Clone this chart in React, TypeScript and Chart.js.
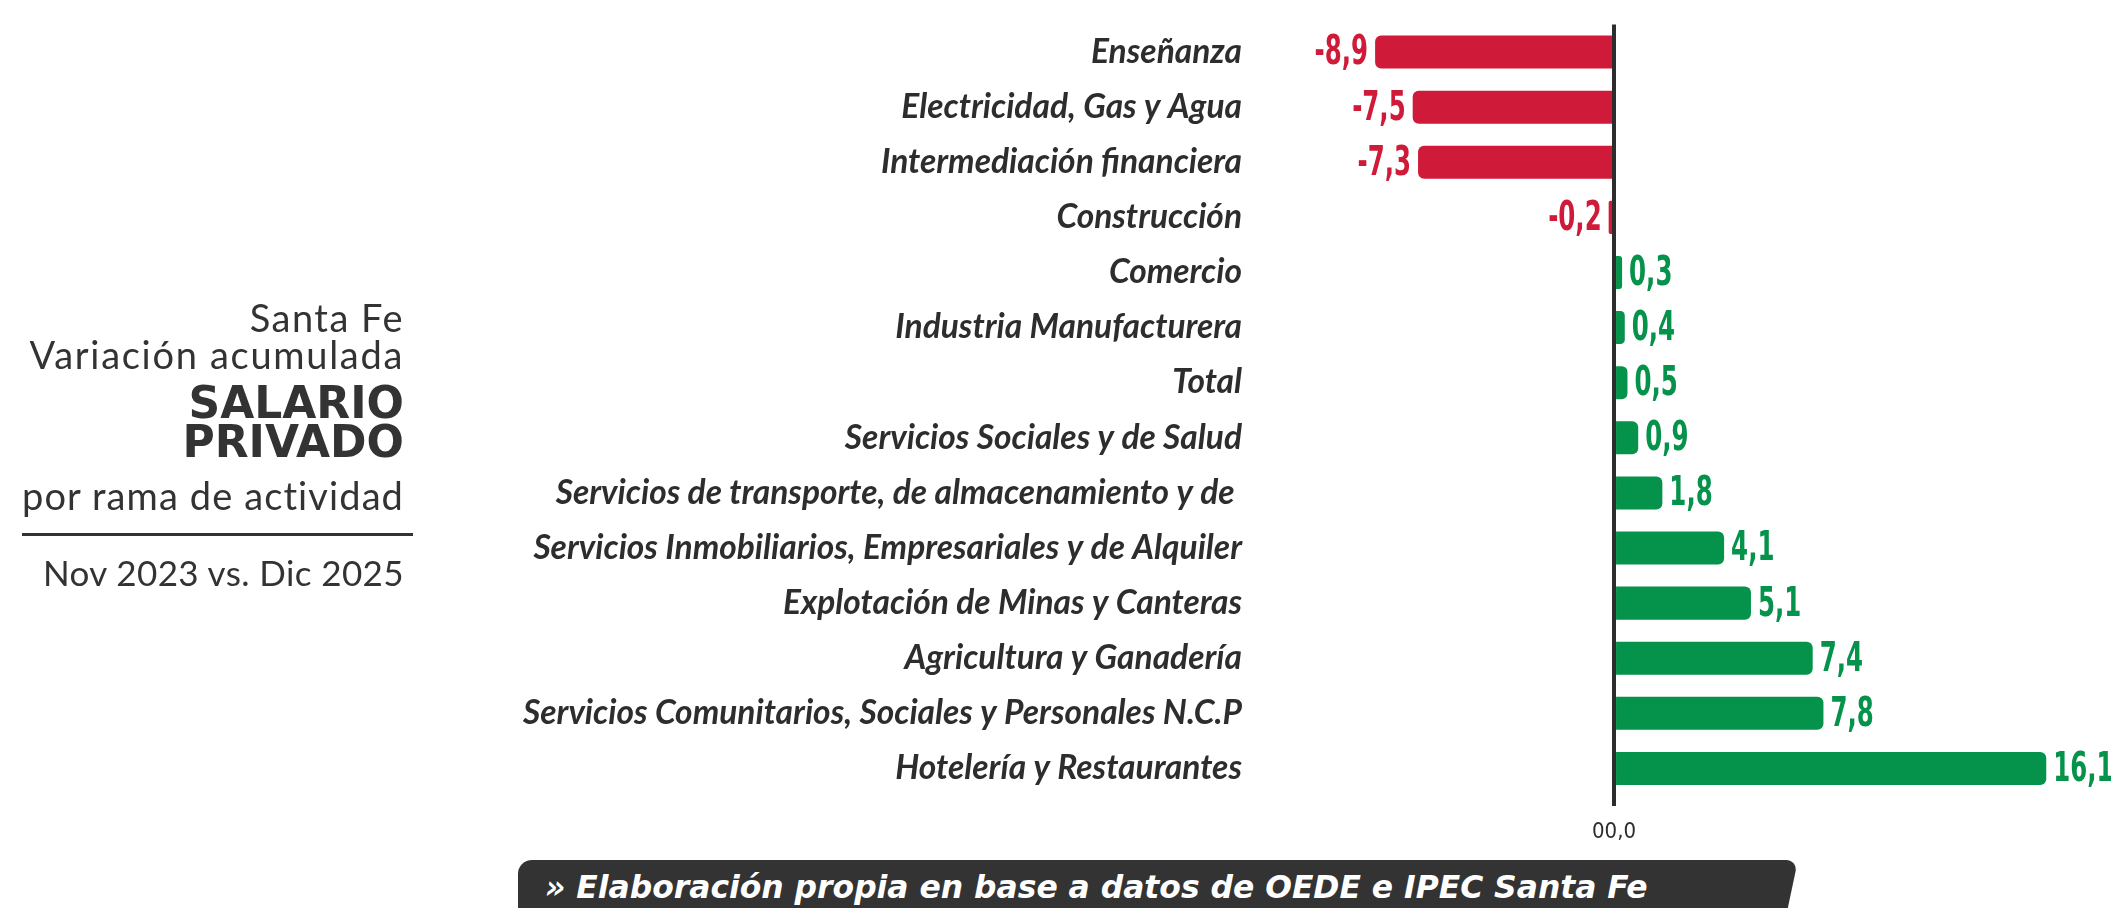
import React, { useEffect, useRef } from "react";
import { Chart, registerables } from "chart.js";

Chart.register(...registerables);

const categories = [
  "Enseñanza",
  "Electricidad, Gas y Agua",
  "Intermediación financiera",
  "Construcción",
  "Comercio",
  "Industria Manufacturera",
  "Total",
  "Servicios Sociales y de Salud",
  "Servicios de transporte, de almacenamiento y de ",
  "Servicios Inmobiliarios, Empresariales y de Alquiler",
  "Explotación de Minas y Canteras",
  "Agricultura y Ganadería",
  "Servicios Comunitarios, Sociales y Personales N.C.P",
  "Hotelería y Restaurantes",
];

const values = [-8.9, -7.5, -7.3, -0.2, 0.3, 0.4, 0.5, 0.9, 1.8, 4.1, 5.1, 7.4, 7.8, 16.1];

const zeroTickLabel = "00,0";

const RED = "#d01a39";
const GREEN = "#05924a";
const DARK = "#2d2d2d";
const VALUE_FONT = '"DejaVu Sans Condensed", "Roboto", sans-serif';
const LABEL_FONT = 'Lato, "Open Sans", sans-serif';

const fmt = (v: number) => v.toFixed(1).replace(".", ",");

const valueLabels = {
  id: "valueLabels",
  afterDatasetsDraw(chart: any) {
    const ctx = chart.ctx;
    const meta = chart.getDatasetMeta(0);
    const ds = chart.data.datasets[0];
    ctx.save();
    ctx.font = `bold 40px ${VALUE_FONT}`;
    ctx.textBaseline = "middle";
    meta.data.forEach((bar: any, i: number) => {
      const v = ds.data[i] as number;
      ctx.fillStyle = v < 0 ? RED : GREEN;
      const gap = 7;
      ctx.save();
      ctx.translate(v < 0 ? bar.x - gap : bar.x + gap, bar.y + 2);
      ctx.scale(0.68, 1);
      ctx.textAlign = v < 0 ? "right" : "left";
      ctx.fillText(fmt(v), 0, 0);
      ctx.restore();
    });
    ctx.restore();
  },
};

function ChartBox() {
  const ref = useRef<HTMLCanvasElement | null>(null);
  useEffect(() => {
    if (!ref.current) return;
    const chart = new Chart(ref.current, {
      type: "bar",
      data: {
        labels: categories,
        datasets: [
          {
            data: values,
            backgroundColor: values.map((v) => (v < 0 ? RED : GREEN)),
            borderRadius: 6,
            borderSkipped: "start",
            barPercentage: 0.6,
            categoryPercentage: 1,
          },
        ],
      },
      options: {
        indexAxis: "y",
        animation: false,
        responsive: false,
        maintainAspectRatio: false,
        layout: { padding: { top: 24.5, right: 54, bottom: 0, left: 0 } },
        plugins: { legend: { display: false }, tooltip: { enabled: false } },
        scales: {
          x: {
            type: "linear",
            min: -9.5,
            max: 16.5,
            afterBuildTicks: (scale: any) => {
              scale.ticks = [{ value: 0 }];
            },
            afterFit: (scale: any) => {
              scale.height = 112;
              scale.paddingLeft = 0;
              scale.paddingRight = 0;
            },
            border: { display: false },
            grid: {
              z: 1,
              color: (c: any) => (c.tick && c.tick.value === 0 ? DARK : "rgba(0,0,0,0)"),
              lineWidth: 4,
              drawTicks: true,
              tickLength: 10,
            },
            ticks: {
              padding: 13,
              color: DARK,
              font: { family: VALUE_FONT, size: 22 },
              callback: (v: any) => (Number(v) === 0 ? zeroTickLabel : ""),
              maxRotation: 0,
            },
          },
          y: {
            afterFit: (scale: any) => {
              scale.width = 1359;
              scale.paddingTop = 0;
              scale.paddingBottom = 0;
            },
            border: { display: false },
            grid: { display: false },
            ticks: {
              autoSkip: false,
              padding: 109,
              color: DARK,
              font: { family: LABEL_FONT, size: 33.5, weight: "bold", style: "italic" },
            },
          },
        },
      },
      plugins: [valueLabels],
    });
    return () => chart.destroy();
  }, []);
  return <canvas ref={ref} width={2111} height={908} style={{ position: "absolute", left: 0, top: 0 }} />;
}

export default function App() {
  const title: React.CSSProperties = {
    position: "absolute",
    right: 2111 - 404,
    whiteSpace: "nowrap",
    textAlign: "right",
    color: "#333",
    lineHeight: 1,
  };
  return (
    <div
      style={{
        position: "fixed",
        left: 0,
        top: 0,
        width: 2111,
        height: 908,
        background: "#fff",
        overflow: "hidden",
      }}
    >
      <ChartBox />
      <div style={{ ...title, top: 298, fontFamily: "Lato, sans-serif", fontSize: 38, letterSpacing: 1.5 }}>Santa Fe</div>
      <div style={{ ...title, top: 335, fontFamily: "Lato, sans-serif", fontSize: 38, letterSpacing: 1.7 }}>Variación acumulada</div>
      <div style={{ ...title, top: 381, fontFamily: '"DejaVu Sans", sans-serif', fontWeight: 900, fontSize: 44 }}>SALARIO</div>
      <div style={{ ...title, top: 420, fontFamily: '"DejaVu Sans", sans-serif', fontWeight: 900, fontSize: 44 }}>PRIVADO</div>
      <div style={{ ...title, top: 476, fontFamily: "Lato, sans-serif", fontSize: 38, letterSpacing: 1.1 }}>por rama de actividad</div>
      <div style={{ position: "absolute", left: 22, top: 533, width: 391, height: 3, background: "#333" }} />
      <div style={{ ...title, top: 555, fontFamily: "Lato, sans-serif", fontSize: 35, letterSpacing: 0.4 }}>Nov 2023 vs. Dic 2025</div>
      <div style={{ position: "absolute", left: 518, top: 860, width: 1200, height: 60, background: "#333", borderTopLeftRadius: 14 }} />
      <div
        style={{
          position: "absolute",
          left: 1650,
          top: 860,
          width: 148,
          height: 60,
          background: "#333",
          borderTopRightRadius: 12,
          transform: "skewX(-12deg)",
          transformOrigin: "top left",
        }}
      />
      <div
        style={{
          position: "absolute",
          left: 545,
          top: 872,
          color: "#fff",
          fontFamily: '"DejaVu Sans", sans-serif',
          fontWeight: "bold",
          fontStyle: "italic",
          fontSize: 31.4,
          lineHeight: 1,
          whiteSpace: "nowrap",
        }}
      >
        » Elaboración propia en base a datos de OEDE e IPEC Santa Fe
      </div>
    </div>
  );
}
